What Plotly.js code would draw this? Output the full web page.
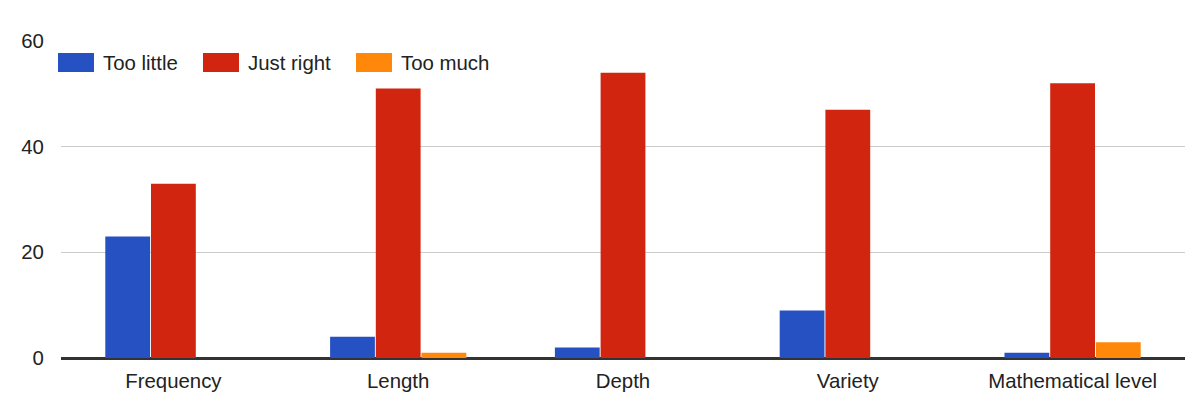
<!DOCTYPE html>
<html><head><meta charset="utf-8">
<script src="https://cdn.plot.ly/plotly-3.0.1.min.js"></script>
<style>html,body{margin:0;padding:0;background:#fff}#c{width:1196px;height:406px}</style>
</head><body><div id="c"></div>
<script>
const categories = ["Frequency", "Length", "Depth", "Variety", "Mathematical level"];
const seriesNames = ["Too little", "Just right", "Too much"];
const tooLittle = [23, 4, 2, 9, 1];
const justRight = [33, 51, 54, 47, 52];
const tooMuch = [0, 1, 0, 0, 3];
const colors = ["#2651C3", "#D12510", "#FF880A"];
const yTicks = [0, 20, 40, 60];

const font = {family: "Liberation Sans, Arial, sans-serif", size: 20.4, color: "#222"};
const values = [tooLittle, justRight, tooMuch];
const traces = values.map((v, i) => ({
  type: "bar", x: categories, y: v, name: seriesNames[i],
  marker: {color: colors[i], line: {width: 0}}, hoverinfo: "x+y+name"
}));

// custom legend (wide swatches like the original)
const shapes = [], annotations = [];
const W = 1196, H = 406, mL = 61, mR = 11, mT = 41, mB = 48;
const pw = W - mL - mR, ph = H - mT - mB;
const legX = [58, 203, 356];
seriesNames.forEach((n, i) => {
  const x0 = (legX[i] - mL) / pw, x1 = (legX[i] + 36 - mL) / pw;
  const y0 = (H - mB - 72) / ph, y1 = (H - mB - 53) / ph;
  shapes.push({type: "rect", xref: "paper", yref: "paper", x0, x1, y0, y1,
    fillcolor: colors[i], line: {width: 0}});
  annotations.push({xref: "paper", yref: "paper", x: (legX[i] + 43 - mL) / pw,
    y: (H - mB - 62.5) / ph, xanchor: "left", yanchor: "middle", text: n,
    showarrow: false, font: font});
});

const layout = {
  width: W, height: H,
  margin: {l: mL, r: mR, t: mT, b: mB, pad: 0},
  paper_bgcolor: "#fff", plot_bgcolor: "#fff",
  barmode: "group", bargap: 0.39, bargroupgap: 0.02,
  showlegend: false, font: font,
  xaxis: {type: "category", showgrid: false, zeroline: false, showline: true,
    linecolor: "#333", linewidth: 1.5, ticks: "outside", ticklen: 4, tickcolor: "rgba(0,0,0,0)",
    tickfont: font, fixedrange: true},
  yaxis: {range: [0, 60], tickvals: yTicks, ticktext: yTicks.map(String),
    showgrid: true, gridcolor: "#ccc", gridwidth: 1, zeroline: true, zerolinecolor: "#333",
    zerolinewidth: 1.5, ticks: "outside", ticklen: 12, tickcolor: "rgba(0,0,0,0)",
    tickfont: font, fixedrange: true},
  shapes, annotations
};
Plotly.newPlot("c", traces, layout, {displayModeBar: false, staticPlot: true});
</script></body></html>
